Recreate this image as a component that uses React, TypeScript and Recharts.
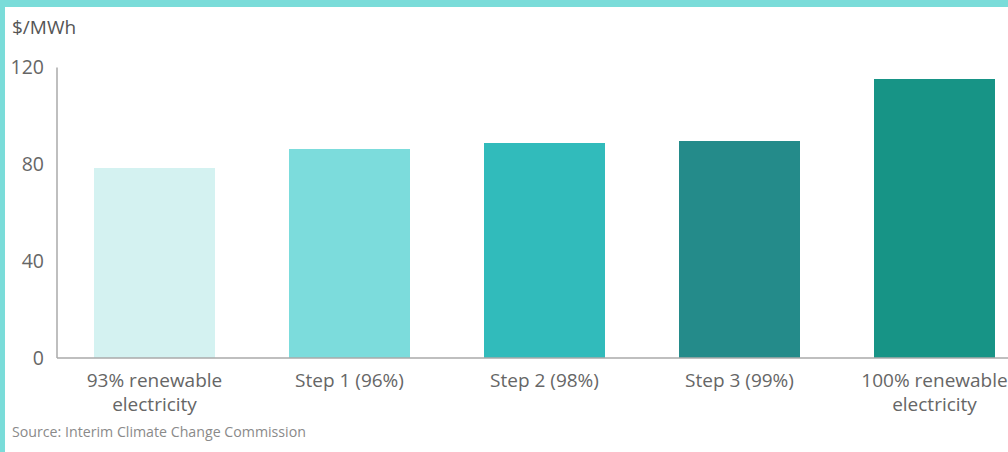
import React from "react";
import { BarChart, Bar, XAxis, YAxis, Cell } from "recharts";

const categories = [
  "93% renewable\nelectricity",
  "Step 1 (96%)",
  "Step 2 (98%)",
  "Step 3 (99%)",
  "100% renewable\nelectricity",
];
const costs = [78.5, 86.3, 88.8, 89.6, 115.2];
const barColors = ["#d4f2f1", "#7cdcdc", "#31bbbb", "#248b8a", "#179486"];
const yTicks = [0, 40, 80, 120];
const unitLabel = "$/MWh";
const sourceText = "Source: Interim Climate Change Commission";

const data = categories.map((c, i) => ({ name: c, value: costs[i] }));

const FONT = "'Open Sans', 'Noto Sans', sans-serif";

const CategoryTick = (props: any) => {
  const { x, y, payload } = props;
  const lines = String(payload.value).split("\n");
  return (
    <g transform={`translate(${x},${y})`}>
      {lines.map((l: string, i: number) => (
        <text
          key={i}
          x={0}
          y={0}
          dy={21 + i * 24}
          textAnchor="middle"
          fill="#666666"
          fontSize={19}
          fontFamily={FONT}
        >
          {l}
        </text>
      ))}
    </g>
  );
};

export default function App() {
  return (
    <div
      style={{
        position: "absolute",
        left: 0,
        top: 0,
        width: 1008,
        height: 452,
        overflow: "hidden",
        background: "#ffffff",
        fontFamily: FONT,
      }}
    >
      <div style={{ position: "absolute", left: 0, top: 0, width: 1008, height: 7, background: "#7adcd9" }} />
      <div style={{ position: "absolute", left: 0, top: 0, width: 5, height: 452, background: "#7adcd9" }} />
      <div
        style={{
          position: "absolute",
          left: 12,
          top: 14,
          fontSize: 19,
          color: "#555555",
          lineHeight: "26px",
        }}
      >
        {unitLabel}
      </div>
      <div style={{ position: "absolute", left: 0, top: 0 }}>
        <BarChart
          width={1060}
          height={440}
          data={data}
          margin={{ top: 67.5, right: 28, left: 0, bottom: 12 }}
          barSize={121}
        >
          <YAxis
            width={57}
            domain={[0, 120]}
            ticks={yTicks}
            interval={0}
            tickLine={false}
            tickSize={0}
            tickMargin={13}
            axisLine={{ stroke: "#aaaaaa", strokeWidth: 1.5 }}
            tick={{ fill: "#666666", fontSize: 19.5, fontFamily: FONT }}
          />
          <XAxis
            dataKey="name"
            height={70}
            interval={0}
            tickLine={false}
            axisLine={{ stroke: "#aaaaaa", strokeWidth: 1.5 }}
            tick={<CategoryTick />}
          />
          <Bar dataKey="value" isAnimationActive={false}>
            {data.map((d, i) => (
              <Cell key={i} fill={barColors[i]} />
            ))}
          </Bar>
        </BarChart>
      </div>
      <div
        style={{
          position: "absolute",
          left: 12,
          top: 422,
          fontSize: 14.2,
          color: "#8a8a8a",
          lineHeight: "19px",
        }}
      >
        {sourceText}
      </div>
    </div>
  );
}
